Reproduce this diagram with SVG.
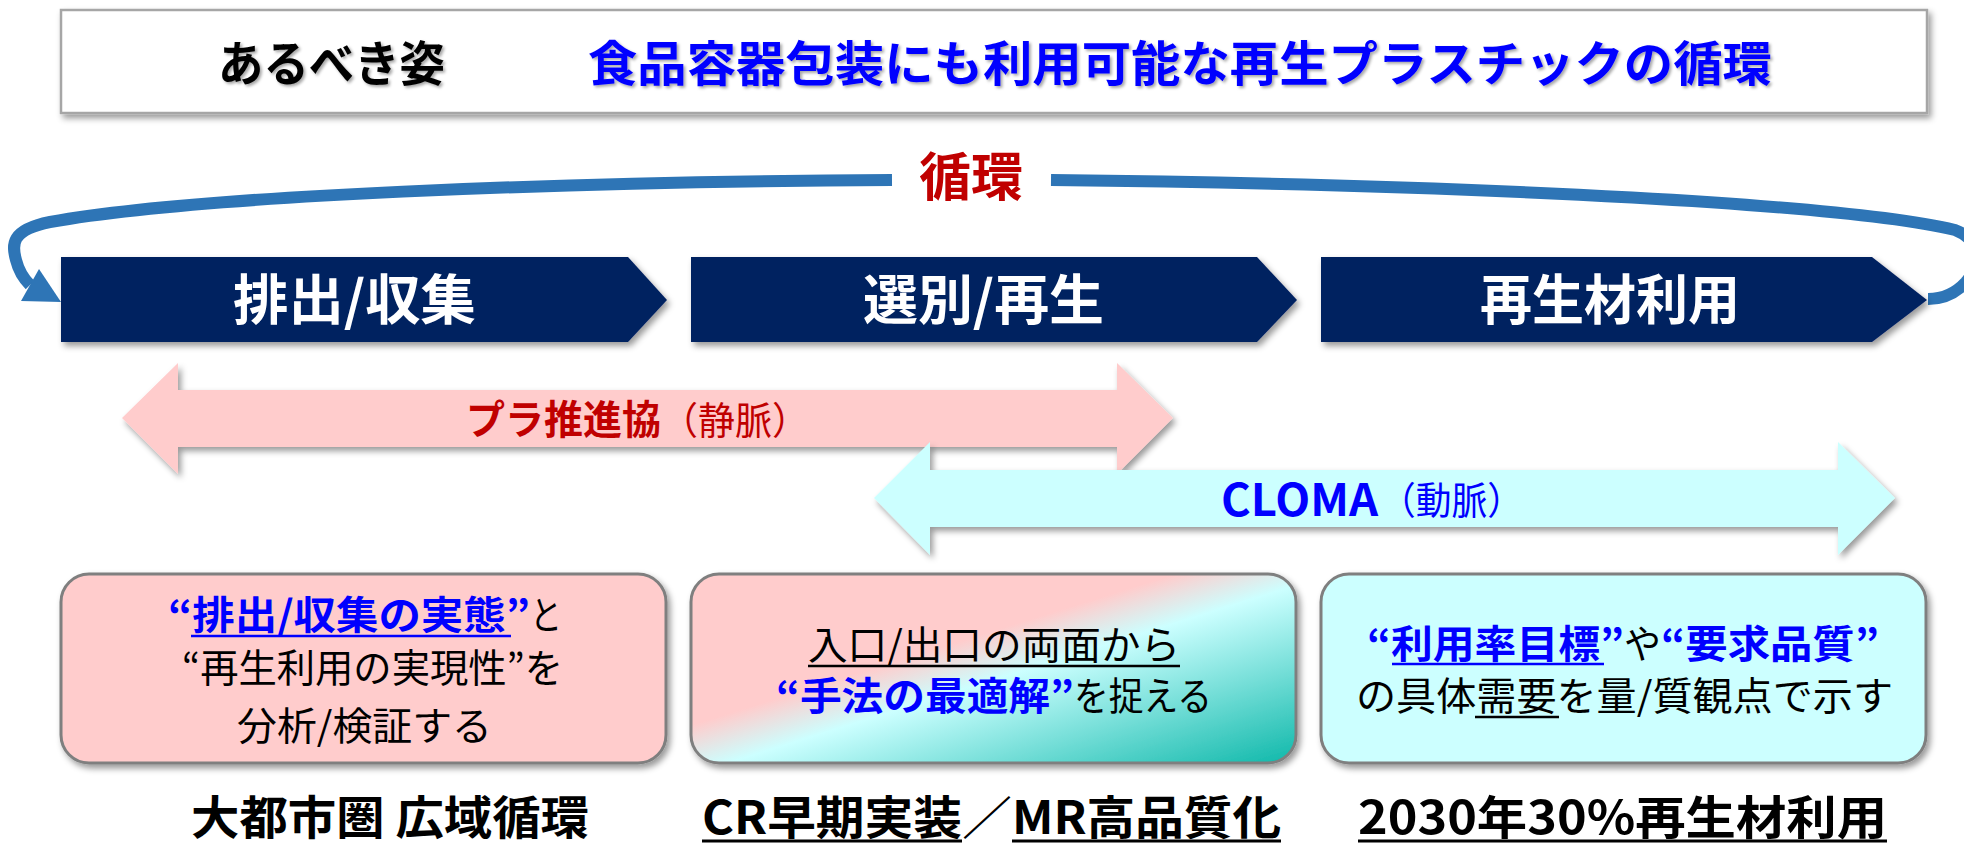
<svg xmlns="http://www.w3.org/2000/svg" width="1964" height="844" viewBox="0 0 1964 844">
<defs>
<style>
text{font-family:"Noto Sans CJK JP","Noto Sans CJK SC","Noto Sans",sans-serif}
.b{font-weight:700}
.r{font-weight:400}
.blue{fill:#0000FF}
.red{fill:#C00000}
.blk{fill:#000}
.wht{fill:#FFFFFF}
.chev{fill:#002060}
.box{stroke:#7F7F7F;stroke-width:3}
.ul{stroke-width:2.5}
</style>
<filter id="sh" x="-5%" y="-20%" width="115%" height="150%">
<feDropShadow dx="3" dy="4" stdDeviation="3" flood-color="#000" flood-opacity="0.4"/>
</filter>
<filter id="tsh" x="-5%" y="-20%" width="115%" height="150%">
<feDropShadow dx="2" dy="2" stdDeviation="1.5" flood-color="#000" flood-opacity="0.35"/>
</filter>
<linearGradient id="g2" x1="0" y1="0" x2="1" y2="1">
<stop offset="0" stop-color="#FFCCCC"/>
<stop offset="0.40" stop-color="#FFCCCC"/>
<stop offset="0.53" stop-color="#CCFFFF"/>
<stop offset="1" stop-color="#0FB8AA"/>
</linearGradient>
</defs>
<rect width="1964" height="844" fill="#FFFFFF"/>

<g id="title">
<rect x="61" y="10" width="1866" height="103" fill="#FFFFFF" stroke="#A6A6A6" stroke-width="2.5" filter="url(#sh)"/>
<text class="b blk" x="218" y="81" font-size="48" textLength="227" lengthAdjust="spacingAndGlyphs" filter="url(#tsh)">あるべき姿</text>
<text class="b blue" x="588" y="81" font-size="48" textLength="1184" lengthAdjust="spacingAndGlyphs" filter="url(#tsh)">食品容器包装にも利用可能な再生プラスチックの循環</text>
</g>

<g id="connectors">
<path d="M892,180 C560,182 200,195 50,222 C10,230 12,245 16,260 C19,272 24,279 30,285" fill="none" stroke="#2E75B6" stroke-width="12"/>
<polygon points="39,269 21,301 61,302" fill="#2E75B6"/>
<path d="M1051,180 C1500,185 1850,205 1955,230 C1985,242 1978,268 1966,282 C1955,294 1942,299 1928,299" fill="none" stroke="#2E75B6" stroke-width="12"/>
</g>

<g id="loop-label">
<text class="b red" x="919" y="196" font-size="52" textLength="104" lengthAdjust="spacingAndGlyphs">循環</text>
</g>

<g id="step1">
<path class="chev" d="M61,257 H628 L667,300 L628,342 H61 Z" filter="url(#sh)"/>
<text class="b wht" x="233" y="320" font-size="54" textLength="243" lengthAdjust="spacingAndGlyphs">排出/収集</text>
</g>
<g id="step2">
<path class="chev" d="M691,257 H1257 L1297,300 L1257,342 H691 Z" filter="url(#sh)"/>
<text class="b wht" x="863" y="320" font-size="54" textLength="241" lengthAdjust="spacingAndGlyphs">選別/再生</text>
</g>
<g id="step3">
<path class="chev" d="M1321,257 H1872 L1927,300 L1872,342 H1321 Z" filter="url(#sh)"/>
<text class="b wht" x="1480" y="320" font-size="54" textLength="260" lengthAdjust="spacingAndGlyphs">再生材利用</text>
</g>

<g id="pla">
<polygon points="122,418 178,363 178,390 1117,390 1117,363 1173,418 1117,474 1117,447 178,447 178,474" fill="#FFCCCC" filter="url(#sh)"/>
<text class="b red" x="466" y="434" font-size="40" textLength="195" lengthAdjust="spacingAndGlyphs">プラ推進協</text>
<text class="r red" x="661" y="434" font-size="38" textLength="148" lengthAdjust="spacingAndGlyphs">（静脈）</text>
</g>

<g id="cloma">
<polygon points="874,498 930,442 930,470 1838,470 1838,442 1895,498 1838,555 1838,527 930,527 930,555" fill="#CCFFFF" filter="url(#sh)"/>
<text class="b blue" x="1221" y="516" font-size="44" textLength="157" lengthAdjust="spacingAndGlyphs">CLOMA</text>
<text class="r blue" x="1380" y="514" font-size="38" textLength="143" lengthAdjust="spacingAndGlyphs">（動脈）</text>
</g>

<g id="box1">
<rect class="box" x="61" y="574" width="605" height="189" rx="28" fill="#FFCCCC" filter="url(#sh)"/>
<text class="b blue" x="168" y="629" font-size="39" textLength="362" lengthAdjust="spacingAndGlyphs">“排出/収集の実態”</text>
<text class="r blk" x="530" y="629" font-size="39" textLength="32" lengthAdjust="spacingAndGlyphs">と</text>
<line class="ul" x1="191" y1="636" x2="511" y2="636" stroke="#0000FF"/>
<text class="r blk" x="182" y="682" font-size="39" textLength="381" lengthAdjust="spacingAndGlyphs">“再生利用の実現性”を</text>
<text class="r blk" x="237" y="740" font-size="39" textLength="255" lengthAdjust="spacingAndGlyphs">分析/検証する</text>
</g>

<g id="box2">
<rect class="box" x="691" y="574" width="605" height="189" rx="28" fill="url(#g2)" filter="url(#sh)"/>
<text class="r blk" x="808" y="659" font-size="39" textLength="372" lengthAdjust="spacingAndGlyphs">入口/出口の両面から</text>
<line class="ul" x1="808" y1="666" x2="1180" y2="666" stroke="#000"/>
<text class="b blue" x="776" y="710" font-size="39" textLength="298" lengthAdjust="spacingAndGlyphs">“手法の最適解”</text>
<text class="r blk" x="1074" y="710" font-size="39" textLength="138" lengthAdjust="spacingAndGlyphs">を捉える</text>
</g>

<g id="box3">
<rect class="box" x="1321" y="574" width="605" height="189" rx="28" fill="#CCFFFF" filter="url(#sh)"/>
<text class="b blue" x="1367" y="658" font-size="39" textLength="257" lengthAdjust="spacingAndGlyphs">“利用率目標”</text>
<line class="ul" x1="1392" y1="664" x2="1604" y2="664" stroke="#0000FF"/>
<text class="r blk" x="1624" y="658" font-size="39" textLength="37" lengthAdjust="spacingAndGlyphs">や</text>
<text class="b blue" x="1661" y="658" font-size="39" textLength="218" lengthAdjust="spacingAndGlyphs">“要求品質”</text>
<text class="r blk" x="1356" y="710" font-size="39" textLength="537" lengthAdjust="spacingAndGlyphs">の具体需要を量/質観点で示す</text>
<line class="ul" x1="1475" y1="717" x2="1559" y2="717" stroke="#000"/>
</g>

<g id="caption1">
<text class="b blk" x="191" y="834" font-size="46" textLength="398" lengthAdjust="spacingAndGlyphs">大都市圏 広域循環</text>
</g>
<g id="caption2">
<text class="b blk" x="702" y="834" font-size="46" textLength="260" lengthAdjust="spacingAndGlyphs">CR早期実装</text>
<text class="r blk" x="962" y="834" font-size="46" textLength="50" lengthAdjust="spacingAndGlyphs">／</text>
<text class="b blk" x="1012" y="834" font-size="46" textLength="269" lengthAdjust="spacingAndGlyphs">MR高品質化</text>
<line x1="702" y1="841" x2="962" y2="841" stroke="#000" stroke-width="3"/>
<line x1="1012" y1="841" x2="1281" y2="841" stroke="#000" stroke-width="3"/>
</g>
<g id="caption3">
<text class="b blk" x="1358" y="834" font-size="46" textLength="529" lengthAdjust="spacingAndGlyphs">2030年30%再生材利用</text>
<line x1="1358" y1="841" x2="1887" y2="841" stroke="#000" stroke-width="3"/>
</g>
</svg>
